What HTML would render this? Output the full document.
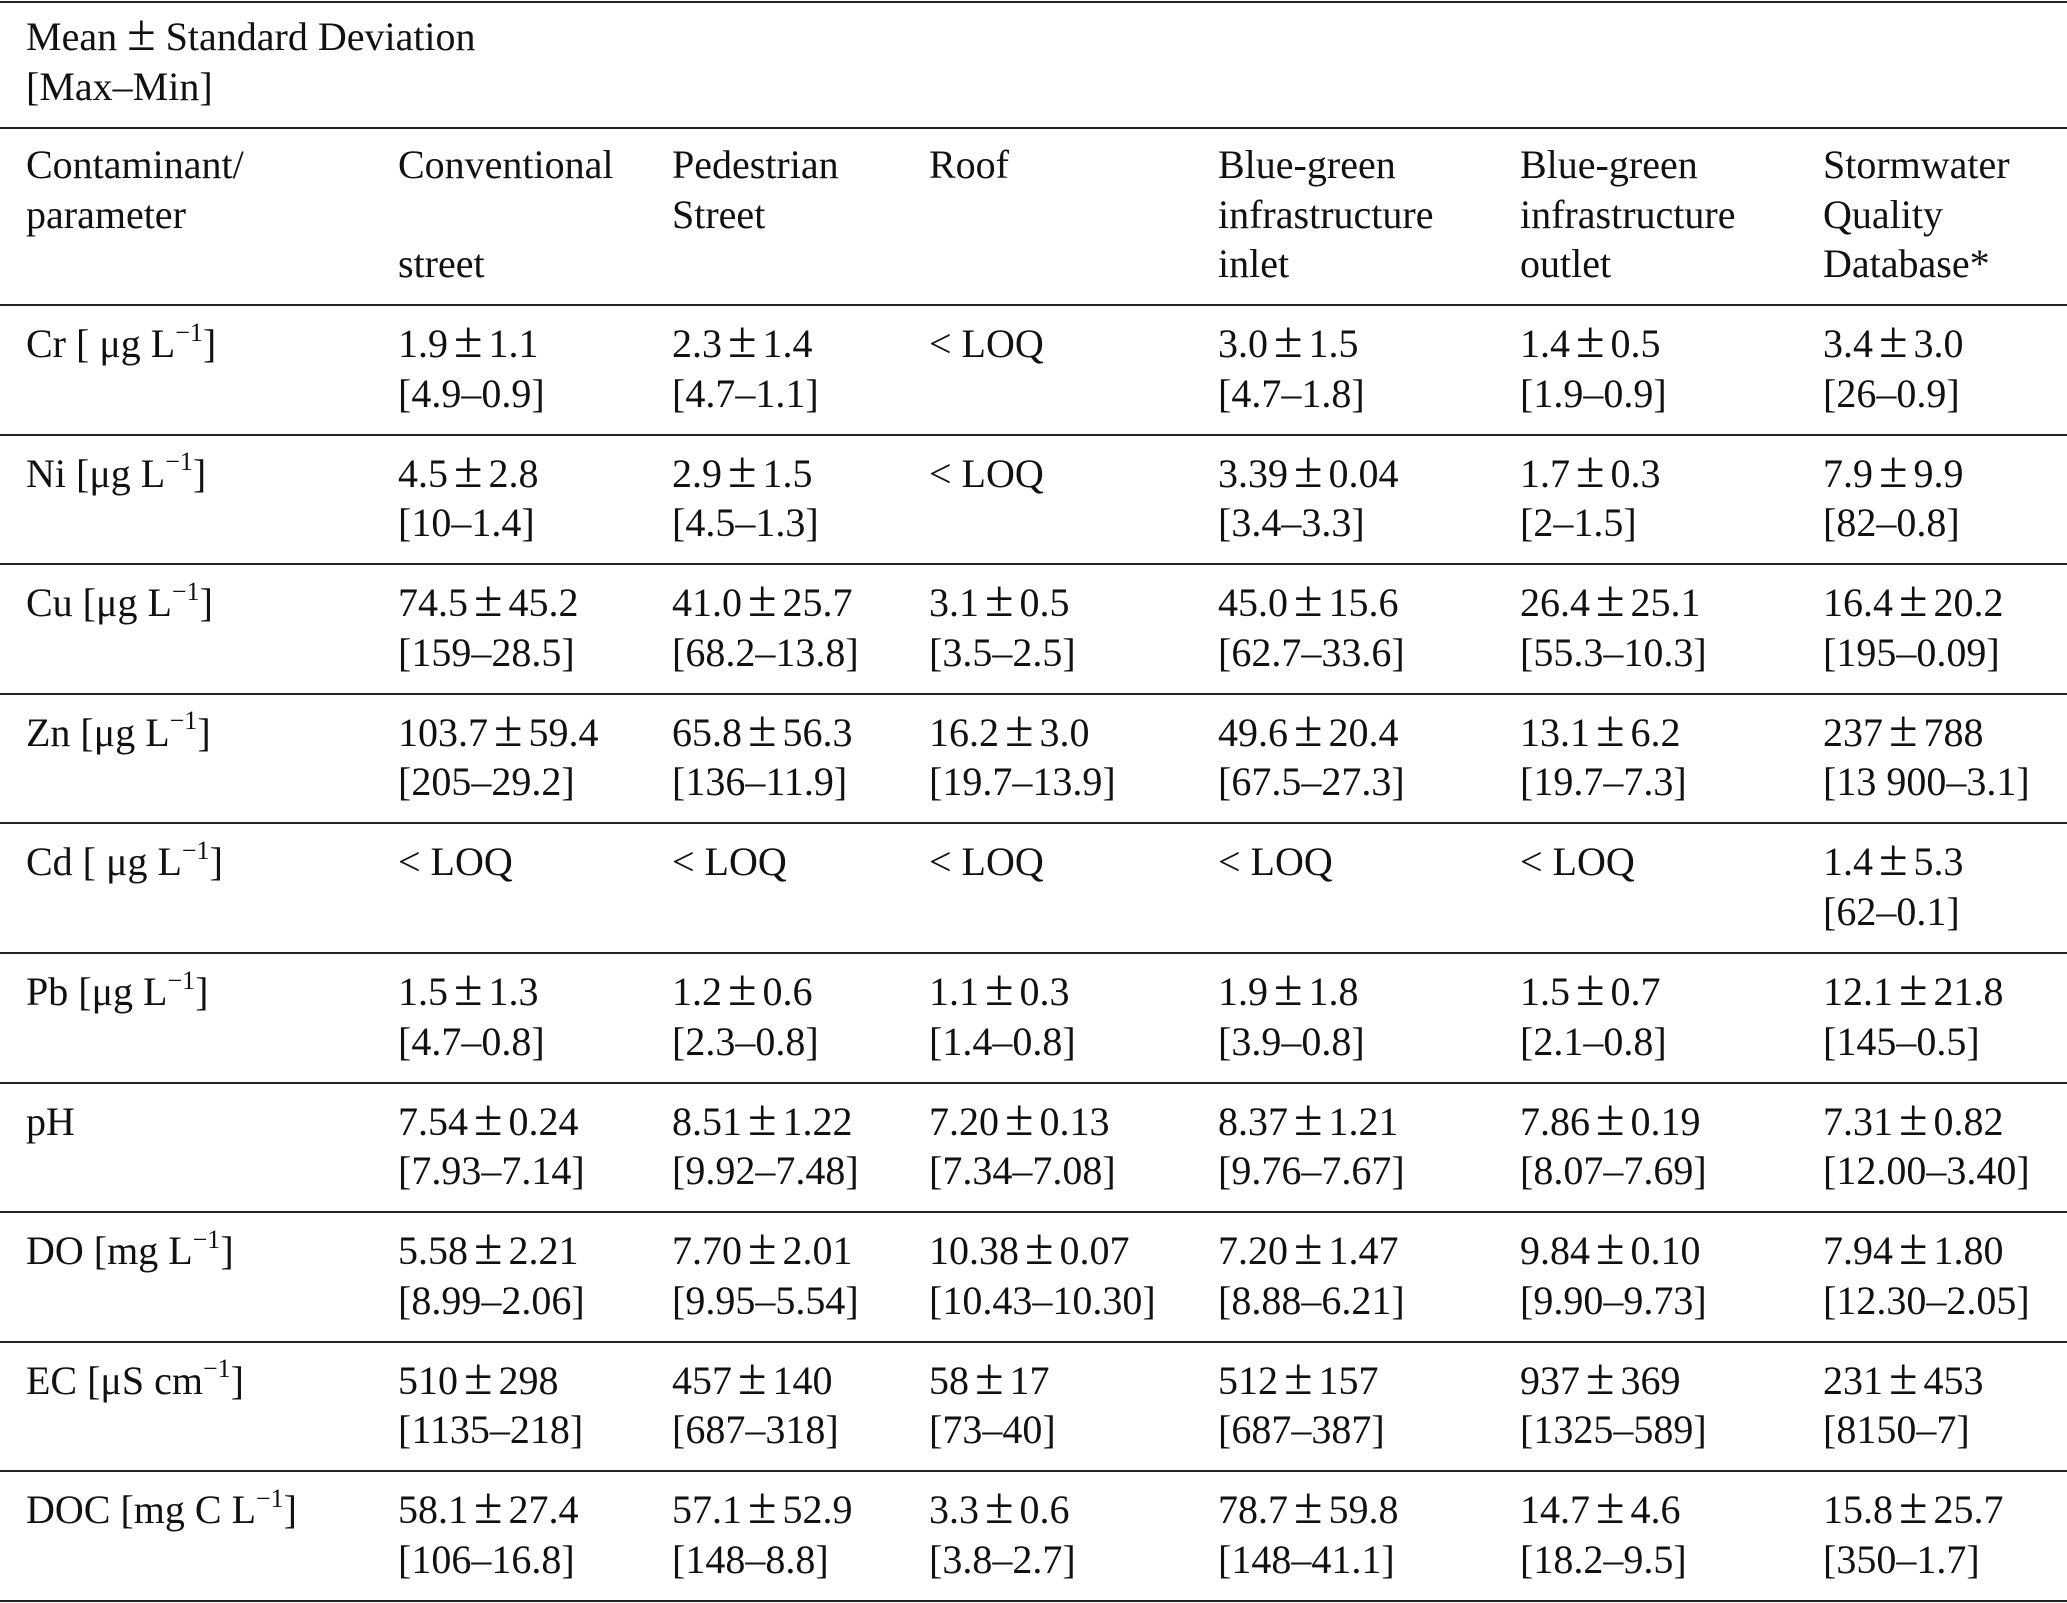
<!DOCTYPE html>
<html><head><meta charset="utf-8"><style>
body{margin:0;width:2067px;height:1603px;background:#fff;position:relative;overflow:hidden;font-family:"Liberation Serif",serif;color:#111}
.h{position:absolute;left:0;width:2067px;height:2px;background:#222}
.t{position:absolute;font-size:40px;line-height:49.5px;white-space:nowrap}
sup{font-size:26px;line-height:0;position:relative;top:-2px;vertical-align:super}
.pm{font-size:1.3em;line-height:0;margin:0 6px}
</style></head><body>
<div class="h" style="top:1px"></div>
<div class="h" style="top:127px"></div>
<div class="h" style="top:304px"></div>
<div class="t" style="left:26px;top:12px">Mean <span class="pm" style="margin:0">±</span> Standard Deviation<br>[Max–Min]</div>
<div class="t" style="left:26px;top:140px">Contaminant/<br>parameter</div>
<div class="t" style="left:398px;top:140px">Conventional<br>&nbsp;<br>street</div>
<div class="t" style="left:672px;top:140px">Pedestrian<br>Street</div>
<div class="t" style="left:929px;top:140px">Roof</div>
<div class="t" style="left:1218px;top:140px">Blue-green<br>infrastructure<br>inlet</div>
<div class="t" style="left:1520px;top:140px">Blue-green<br>infrastructure<br>outlet</div>
<div class="t" style="left:1823px;top:140px">Stormwater<br>Quality<br>Database*</div>
<div id="rows"></div>
<script>
var rows=[
["Cr [ μg L<sup>−1</sup>]","1.9 ± 1.1<br>[4.9–0.9]","2.3 ± 1.4<br>[4.7–1.1]","&lt; LOQ","3.0 ± 1.5<br>[4.7–1.8]","1.4 ± 0.5<br>[1.9–0.9]","3.4 ± 3.0<br>[26–0.9]"],
["Ni [μg L<sup>−1</sup>]","4.5 ± 2.8<br>[10–1.4]","2.9 ± 1.5<br>[4.5–1.3]","&lt; LOQ","3.39 ± 0.04<br>[3.4–3.3]","1.7 ± 0.3<br>[2–1.5]","7.9 ± 9.9<br>[82–0.8]"],
["Cu [μg L<sup>−1</sup>]","74.5 ± 45.2<br>[159–28.5]","41.0 ± 25.7<br>[68.2–13.8]","3.1 ± 0.5<br>[3.5–2.5]","45.0 ± 15.6<br>[62.7–33.6]","26.4 ± 25.1<br>[55.3–10.3]","16.4 ± 20.2<br>[195–0.09]"],
["Zn [μg L<sup>−1</sup>]","103.7 ± 59.4<br>[205–29.2]","65.8 ± 56.3<br>[136–11.9]","16.2 ± 3.0<br>[19.7–13.9]","49.6 ± 20.4<br>[67.5–27.3]","13.1 ± 6.2<br>[19.7–7.3]","237 ± 788<br>[13 900–3.1]"],
["Cd [ μg L<sup>−1</sup>]","&lt; LOQ","&lt; LOQ","&lt; LOQ","&lt; LOQ","&lt; LOQ","1.4 ± 5.3<br>[62–0.1]"],
["Pb [μg L<sup>−1</sup>]","1.5 ± 1.3<br>[4.7–0.8]","1.2 ± 0.6<br>[2.3–0.8]","1.1 ± 0.3<br>[1.4–0.8]","1.9 ± 1.8<br>[3.9–0.8]","1.5 ± 0.7<br>[2.1–0.8]","12.1 ± 21.8<br>[145–0.5]"],
["pH","7.54 ± 0.24<br>[7.93–7.14]","8.51 ± 1.22<br>[9.92–7.48]","7.20 ± 0.13<br>[7.34–7.08]","8.37 ± 1.21<br>[9.76–7.67]","7.86 ± 0.19<br>[8.07–7.69]","7.31 ± 0.82<br>[12.00–3.40]"],
["DO [mg L<sup>−1</sup>]","5.58 ± 2.21<br>[8.99–2.06]","7.70 ± 2.01<br>[9.95–5.54]","10.38 ± 0.07<br>[10.43–10.30]","7.20 ± 1.47<br>[8.88–6.21]","9.84 ± 0.10<br>[9.90–9.73]","7.94 ± 1.80<br>[12.30–2.05]"],
["EC [μS cm<sup>−1</sup>]","510 ± 298<br>[1135–218]","457 ± 140<br>[687–318]","58 ± 17<br>[73–40]","512 ± 157<br>[687–387]","937 ± 369<br>[1325–589]","231 ± 453<br>[8150–7]"],
["DOC [mg C L<sup>−1</sup>]","58.1 ± 27.4<br>[106–16.8]","57.1 ± 52.9<br>[148–8.8]","3.3 ± 0.6<br>[3.8–2.7]","78.7 ± 59.8<br>[148–41.1]","14.7 ± 4.6<br>[18.2–9.5]","15.8 ± 25.7<br>[350–1.7]"]];
var xs=[26,398,672,929,1218,1520,1823],h="";
for(var i=0;i<rows.length;i++){var rt=305+129.6*i;
for(var j=0;j<7;j++)h+='<div class="t" style="left:'+xs[j]+'px;top:'+(rt+14)+'px">'+rows[i][j].replace(' ± ','<span class="pm">±</span>')+'</div>';
h+='<div class="h" style="top:'+(rt+129.6-1)+'px"></div>';}
document.getElementById('rows').innerHTML=h;
</script>
</body></html>
